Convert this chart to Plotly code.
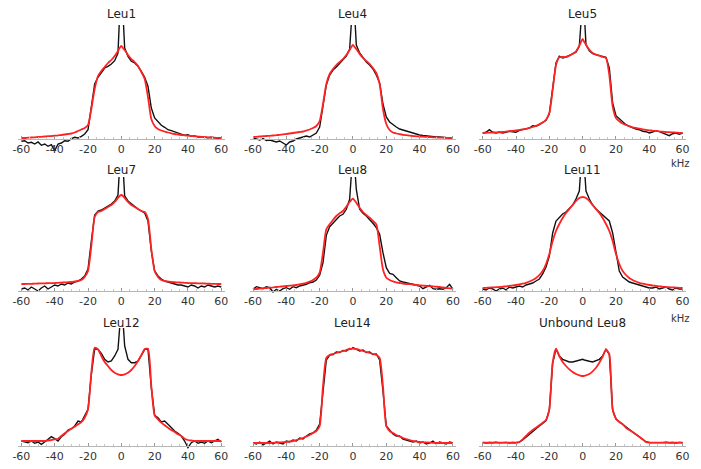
import plotly.graph_objects as go

# ---------------- data (intensity, arbitrary units; x in kHz) ----------------
x_khz = list(range(-60, -1, 2)) + [-1, 0, 1] + list(range(2, 61, 2))

panel_names = ["Leu1", "Leu4", "Leu5", "Leu7", "Leu8", "Leu11", "Leu12", "Leu14", "Unbound Leu8"]

tick_vals = [-60, -40, -20, 0, 20, 40, 60]
tick_text = ["-60", "-40", "-20", "0", "20", "40", "60"]

leu1_fit = [1, 1, 1.3, 1.5, 1.7, 2, 2.2, 2.5, 2.8, 3, 3.3, 3.6, 4, 4.5, 5, 5.5, 6.5, 8, 9.5, 11,
            14, 30, 50, 63, 68, 72, 76, 79, 83, 88,
            91, 93, 91,
            89, 84, 80, 77, 73, 67, 60, 42, 20, 13, 10, 8.5, 7.5, 6.5, 5.7, 5, 4.5, 4, 3.6, 3.3,
            3, 2.7, 2.4, 2.1, 1.9, 1.7, 1.5, 1.3, 1.1, 1]
leu1_exp = [-2.3, -1.7, -4, -3.3, -5, -3, -6.3, -5, -7.3, -5.7, -11.7, -5, -4, -1.7, -2.3, 0.3, 1.7, 1, 2.7, 5,
            9.3, 31, 55, 61.7, 66, 71, 72.7, 75, 78.3, 86,
            125, 140, 125,
            91, 82.7, 77.7, 76, 72.7, 67.7, 61.7, 52.7, 31, 21, 17, 13.7, 11.7, 9.3, 8.3, 7, 6, 5, 3.7, 4.3,
            2.7, 3, 2, 2.3, 1.7, 1.3, 1.7, 1, 0.7, 0.3]

leu4_fit = [2, 2.2, 2.5, 2.8, 3, 3.2, 3.5, 3.8, 4.2, 4.6, 5, 5.5, 6, 6.5, 7, 7.5, 8.5, 9.5, 11, 13,
            18, 35, 55, 65, 70, 74, 77, 80, 84, 89,
            92, 94, 92,
            90, 85, 81, 78, 75, 71, 66, 55, 30, 15, 9, 6.5, 5.5, 4.8, 4.2, 3.8, 3.4, 3, 2.7, 2.5,
            2.3, 2.1, 1.9, 1.7, 1.5, 1.4, 1.3, 1.2, 1.1, 1]
leu4_exp = [1, 0, -1, 0.5, -1.5, -1, -2, -3, -2, -4, -6, -3, -2, 0, 1, 2, 3, 2, 4, 6,
            12, 33, 54, 64, 69, 72, 76, 79, 83, 90,
            125, 140, 125,
            94, 86, 81, 77, 74, 70, 64, 56, 35, 22, 17, 14, 12, 10, 9, 7.5, 6.5, 5.5, 5, 4,
            3.5, 3, 3, 2.5, 2, 2, 1.5, 1.5, 1, 1]

leu5_fit = [6, 6.2, 6.4, 6.5, 6.6, 6.7, 7, 7.4, 7.8, 8.2, 8.7, 9.1, 9.6, 10.2, 11, 12, 13.2, 14.8, 16.5, 19.3,
            26, 49, 74, 81.7, 82, 82, 83.3, 85.3, 87.7, 93.3,
            97, 100, 97,
            94.3, 89.3, 86, 84.3, 83.3, 82, 81, 64, 32.7, 21, 17.7, 15.5, 14, 12.8, 11.7, 11, 10.3, 9.7, 9.2, 8.7,
            8.3, 8, 7.6, 7.3, 7, 6.8, 6.6, 6.4, 6.2, 6]
leu5_exp = [6, 6.7, 9.3, 6.7, 6, 7, 6, 6.7, 7.7, 7.3, 6.7, 8.7, 9.3, 10, 11, 13.3, 12.7, 14.3, 16.7, 18.7,
            25.3, 51, 76, 82.7, 81, 82, 83.3, 85.3, 86.7, 92.7,
            125, 140, 125,
            94.3, 88.3, 85.3, 84.3, 83.3, 82.7, 81.7, 71, 36, 23.3, 20, 16.7, 14.3, 12.7, 11, 10, 9.3, 7.7, 7.3, 6,
            7, 8.3, 7.3, 6, 5.3, 3.3, 5.3, 6, 4.7, 6]

leu7_fit = [7, 7, 7.1, 7.2, 7.3, 7.5, 7.6, 7.7, 7.8, 7.9, 8, 8.2, 8.4, 8.6, 8.8, 9, 9.5, 10, 11, 14,
            20, 45, 74, 79, 80, 82, 84, 86, 89, 93,
            95, 96, 95,
            93, 89, 86, 84, 82, 80, 79, 72, 42, 20, 14, 11, 10, 9.5, 9, 8.8, 8.6, 8.4, 8.2, 8,
            7.9, 7.8, 7.7, 7.6, 7.5, 7.3, 7.2, 7.1, 7, 7]
leu7_exp = [2, 3, 1, 4, 2, 0, 3, 5, 2, 4, 6, 5, 7, 6, 8, 7, 9, 10, 12, 15,
            22, 50, 76, 80, 81, 83, 85, 87, 90, 96,
            125, 140, 125,
            95, 90, 87, 84, 82, 80, 78, 70, 40, 20, 15, 12, 10, 9, 8, 7, 6, 6, 5, 4,
            6, 5, 3, 5, 4, 6, 5, 4, 5, 4]

leu8_fit = [1.7, 2, 2.4, 2.7, 3, 3.3, 3.6, 4, 4.3, 4.7, 5, 5.3, 5.5, 6, 6.6, 7.3, 8.2, 9.3, 11, 13.3,
            18.3, 38.3, 61.7, 66.7, 71, 75, 77.7, 80, 84.3, 89,
            91, 92.3, 90.5,
            88.3, 83.3, 79, 76, 73.3, 70, 66.7, 45, 21.7, 13.3, 11, 9.6, 8.7, 8, 7.3, 7, 6.8, 6.5, 6, 5.7,
            5.4, 5.1, 4.9, 4.6, 4.3, 4, 3.5, 3, 2.6, 2.3]
leu8_exp = [1.7, 4.3, 3.3, 2.3, 4.3, 3.3, -1, 1.7, 0, 2.3, 3.3, 1.7, 4.3, 3.3, 5, 5.7, 6.7, 8.3, 9, 11,
            15.7, 28.3, 55.7, 64.3, 67.7, 71.7, 75, 76.7, 81.7, 91.7,
            125, 140, 125,
            101.7, 81.7, 77.7, 75, 71.7, 67.7, 63.3, 56.7, 38.3, 23.3, 17.7, 16.7, 13.3, 10, 9, 8.3, 7.7, 6.7, 5.7, 5,
            2.3, 4.3, 5.7, 2.3, 1.7, 2.3, 1.7, 3.3, 6.7, 1.7]

leu11_fit = [3, 3.2, 3.4, 3.6, 3.8, 4, 4.3, 4.7, 5.1, 5.5, 6, 6.6, 7.3, 8.2, 9.5, 11, 13, 16, 20, 27,
             37, 50, 60, 67, 73, 78, 82, 86, 90, 93,
             93.7, 94, 93.7,
             93, 90, 86, 82, 78, 73, 67, 60, 50, 37, 27, 20, 16, 13, 11, 9.5, 8.2, 7.3, 6.6, 6,
             5.5, 5.1, 4.7, 4.3, 4, 3.8, 3.6, 3.4, 3.2, 3]
leu11_exp = [2, 1, 3, 2, 0, 2, 3, 1, 4, 3, 4, 5, 4, 6, 7, 8, 10, 12, 17, 24,
             35, 58, 70, 74, 77, 79, 82, 86, 92, 100,
             125, 140, 125,
             100, 92, 86, 82, 79, 77, 74, 70, 58, 40, 20, 14, 11, 9, 8, 7, 6, 5, 4, 3,
             3, 4, 2, 3, 4, 2, 1, 3, 2, 2]

leu12_fit = [5, 5, 5, 5, 5, 5, 5, 5, 5.5, 6, 6.7, 7.3, 10, 12.7, 15, 17.3, 19.3, 21.7, 24, 28.3,
             36.7, 73.3, 98.3, 96.7, 90, 84, 80, 76, 73.3, 71.7,
             71.2, 71, 71.2,
             71.7, 73.3, 76, 80, 85, 90.7, 96.7, 97.3, 60, 30.7, 26.7, 23.3, 20.7, 18.3, 16, 14, 11.7, 10, 7.3, 6,
             5.5, 5, 5, 5, 5, 5, 5, 5, 5, 5]
leu12_exp = [5, 4, 3.3, 5, 2.7, 4, 1.7, 4, 6.7, 9.3, 7.3, 5, 9.3, 11.7, 16, 17.3, 20, 25, 24, 30,
             36.7, 71.7, 97.3, 96.7, 92.7, 86.7, 84, 85, 90, 96.7,
             125, 140, 125,
             100, 86.7, 83.3, 83.3, 85, 90.7, 96.7, 96.7, 58.3, 30.7, 28.3, 24, 25, 21.7, 18.3, 15, 12.7, 10, 5, -1.7,
             3.3, 5, 2.7, 4, 2.7, 5, 3.3, 5, 6.7, 4]

leu14_fit = [3, 3, 3, 3, 3, 3, 3.2, 3.4, 3.6, 3.8, 4, 4.5, 5, 6, 7, 8, 9.5, 11, 13, 15,
             20, 60, 88, 91, 92, 93, 94, 95, 96, 97,
             97, 97.5, 97,
             97, 96, 95, 94, 93, 92, 91, 88, 60, 20, 15, 13, 11, 9.5, 8, 7, 6, 5, 4.5, 4,
             3.8, 3.6, 3.4, 3.2, 3, 3, 3, 3, 3, 3]
leu14_exp = [3, 2, 4, 1, 3, 5, 2, 4, 3, 2, 5, 4, 6, 5, 8, 7, 10, 12, 13, 16,
             22, 58, 86, 91, 91.5, 94, 93.5, 95.5, 95, 97.5,
             97, 98.5, 97.5,
             97, 95, 96, 93.5, 94, 91.5, 92, 86, 55, 20, 16, 12, 10, 10, 7, 6, 5, 4, 5, 3,
             4, 2, 3, 5, 2, 4, 3, 2, 4, 3]

unb8_fit = [3.3, 3.3, 3.3, 3.3, 3.3, 3.3, 3.3, 3.3, 3.3, 3.3, 3.3, 4, 6.7, 10, 13.3, 16, 18.3, 20.7, 23.3, 26,
            36.7, 83.3, 97.3, 90, 84, 80, 76.7, 74, 72, 70.7,
            70.2, 70, 70.2,
            70.7, 72, 74.7, 78.3, 83.3, 89.3, 96.7, 91.7, 36.7, 27.3, 24, 21.7, 18.3, 16, 14, 11.7, 9.3, 6.7, 4, 3.3,
            3.3, 3.3, 3.3, 3.3, 3.3, 3.3, 3.3, 3.3, 3.3, 3.3]
unb8_exp = [3.6, 3.0, 3.5, 3.2, 3.8, 3.1, 3.4, 3.6, 3.0, 3.5, 3.2, 3.8, 6, 9, 12, 15, 17.5, 20, 22.5, 25.5,
            36, 83, 97, 90, 86.7, 85, 84, 84, 85, 86,
            86.3, 86.7, 86,
            85.3, 84.7, 84, 85, 86.7, 90, 96.7, 91.7, 36, 27, 24.3, 21.5, 18.5, 16.2, 14, 11.5, 9, 6.5, 4.2, 3.5,
            3.3, 3.6, 3.1, 3.4, 3.7, 3.2, 3.5, 3.0, 3.6, 3.3]

exp_series = [leu1_exp, leu4_exp, leu5_exp, leu7_exp, leu8_exp, leu11_exp, leu12_exp, leu14_exp, unb8_exp]
fit_series = [leu1_fit, leu4_fit, leu5_fit, leu7_fit, leu8_fit, leu11_fit, leu12_fit, leu14_fit, unb8_fit]

# ---------------- layout geometry ----------------
W, H = 701, 469
col_zero_px = [117, 352, 585]
row_base_px = [139, 291, 446]
row_range = [(-14, 114), (-14, 114), (-14, 118)]
title_px = [14, 170, 323]
PX_PER_KHZ = 1.69
XR = 62

fig = go.Figure()
layout = dict(width=W, height=H, margin=dict(l=0, r=0, t=0, b=0),
              paper_bgcolor="white", plot_bgcolor="white", showlegend=False,
              font=dict(family="DejaVu Sans", color="#333"))
annotations = []

for i, name in enumerate(panel_names):
    r, c = divmod(i, 3)
    idx = i + 1
    sfx = "" if idx == 1 else str(idx)
    xa, ya = "x" + sfx, "y" + sfx
    base = row_base_px[r]
    lo, hi = row_range[r]
    left = col_zero_px[c] - XR * PX_PER_KHZ
    right = col_zero_px[c] + XR * PX_PER_KHZ
    top_px, bot_px = base - hi, base - lo
    layout["xaxis" + sfx] = dict(
        domain=[left / W, right / W], range=[-XR, XR], anchor="free", position=1 - base / H,
        showline=True, linecolor="#b5b5b5", linewidth=1, showgrid=False, zeroline=False,
        tickmode="array", tickvals=tick_vals, ticktext=tick_text,
        ticks="inside", ticklen=3, tickcolor="#999", tickwidth=1,
        minor=dict(dtick=5, tick0=0, ticks="inside", ticklen=2, tickcolor="#c8c8c8"),
        tickfont=dict(size=11, color="#333", family="DejaVu Sans"), fixedrange=True)
    layout["yaxis" + sfx] = dict(
        domain=[1 - bot_px / H, 1 - top_px / H], range=[lo, hi], visible=False,
        anchor=xa, fixedrange=True)
    fig.add_trace(go.Scatter(x=x_khz, y=exp_series[i], mode="lines", xaxis=xa, yaxis=ya,
                             line=dict(color="#111111", width=1.4), hoverinfo="skip"))
    fig.add_trace(go.Scatter(x=x_khz, y=fit_series[i], mode="lines", xaxis=xa, yaxis=ya,
                             line=dict(color="#ff2222", width=1.8, shape="spline", smoothing=0.6),
                             hoverinfo="skip"))
    annotations.append(dict(text=name, x=col_zero_px[c] / W, y=1 - title_px[r] / H,
                            xref="paper", yref="paper", xanchor="center", yanchor="middle",
                            showarrow=False, font=dict(size=12, color="#222", family="DejaVu Sans")))

for ypx in [163, 318]:
    annotations.append(dict(text="kHz", x=684 / W, y=1 - ypx / H, xref="paper", yref="paper",
                            xanchor="center", yanchor="middle", showarrow=False,
                            font=dict(size=10, color="#333", family="DejaVu Sans")))

layout["annotations"] = annotations
fig.update_layout(**layout)
fig.write_html("out.html", config={"displayModeBar": False, "staticPlot": True},
               post_script="document.body.style.margin='0';document.body.style.overflow='hidden';")
